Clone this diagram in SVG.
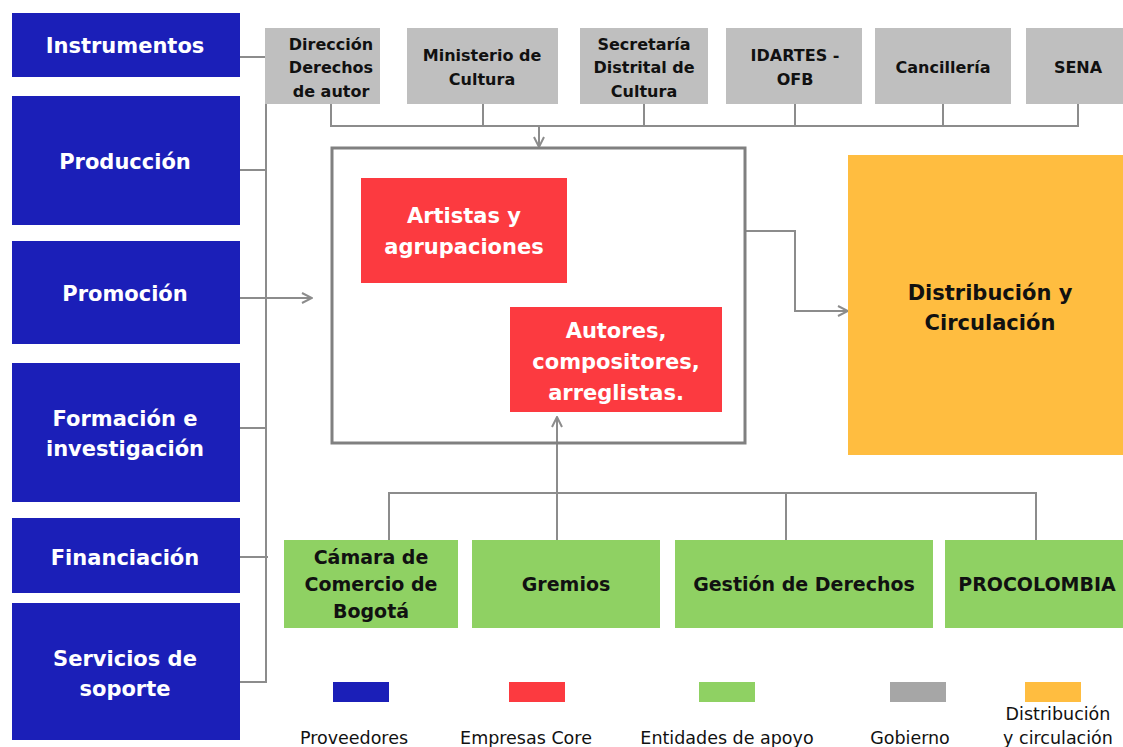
<svg xmlns="http://www.w3.org/2000/svg" width="1123" height="747" viewBox="0 0 1123 747">
<style>
.blue{fill:#1b1fb8}
.gray{fill:#bfbfbf}
.red{fill:#fc3a40}
.green{fill:#8fd163}
.orange{fill:#ffbd40}
.tw{font-family:"DejaVu Sans",sans-serif;font-weight:bold;fill:#fff;text-anchor:middle}
.tb{font-family:"DejaVu Sans",sans-serif;font-weight:bold;fill:#111;text-anchor:middle}
.lg{font-family:"DejaVu Sans",sans-serif;fill:#111;text-anchor:middle;font-size:17.5px}
.c{fill:none;stroke:#8c8c8c;stroke-width:2}
</style>
<defs>
<marker id="ar" viewBox="0 0 12 12" refX="11" refY="6" markerWidth="12" markerHeight="12" markerUnits="userSpaceOnUse" orient="auto">
<path d="M1,1 L11,6 L1,11" fill="none" stroke="#8c8c8c" stroke-width="2"/>
</marker>
</defs>
<rect width="1123" height="747" fill="#fff"/>

<g id="connectors">
<path class="c" d="M240,57 H266 V682 H232"/>
<path class="c" d="M232,170 H266"/>
<path class="c" d="M232,428 H266"/>
<path class="c" d="M232,557 H268"/>
<path class="c" d="M232,298 H312" marker-end="url(#ar)"/>
<path class="c" d="M331,104 V126 H1078 V104"/>
<path class="c" d="M483,104 V126 M644,104 V126 M795,104 V126 M943,104 V126"/>
<path class="c" d="M539,126 V147" marker-end="url(#ar)"/>
<path class="c" d="M745,231 H795 V311 H848" marker-end="url(#ar)"/>
<path class="c" d="M389,540 V493 H1036 V540"/>
<path class="c" d="M786,493 V540"/>
<path class="c" d="M557,540 V417" marker-end="url(#ar)"/>
</g>

<g id="instrumentos"><rect class="blue" x="12" y="13" width="228" height="64"/><text class="tw" x="125" y="53" font-size="21">Instrumentos</text></g>
<g id="produccion"><rect class="blue" x="12" y="96" width="228" height="129"/><text class="tw" x="125" y="169" font-size="21">Producción</text></g>
<g id="promocion"><rect class="blue" x="12" y="241" width="228" height="103"/><text class="tw" x="125" y="301" font-size="21">Promoción</text></g>
<g id="formacion"><rect class="blue" x="12" y="363" width="228" height="139"/><text class="tw" x="125" y="426" font-size="21">Formación e</text><text class="tw" x="125" y="456" font-size="21">investigación</text></g>
<g id="financiacion"><rect class="blue" x="12" y="518" width="228" height="75"/><text class="tw" x="125" y="565" font-size="21">Financiación</text></g>
<g id="servicios"><rect class="blue" x="12" y="603" width="228" height="137"/><text class="tw" x="125" y="666" font-size="21">Servicios de</text><text class="tw" x="125" y="696" font-size="21">soporte</text></g>

<g id="direccion"><rect class="gray" x="265" y="28" width="115" height="76"/><text class="tb" x="331" y="50" font-size="16">Dirección</text><text class="tb" x="331" y="73" font-size="16">Derechos</text><text class="tb" x="331" y="97" font-size="16">de autor</text></g>
<g id="ministerio"><rect class="gray" x="407" y="28" width="151" height="76"/><text class="tb" x="482" y="61" font-size="16">Ministerio de</text><text class="tb" x="482" y="85" font-size="16">Cultura</text></g>
<g id="secretaria"><rect class="gray" x="580" y="28" width="128" height="76"/><text class="tb" x="644" y="50" font-size="16">Secretaría</text><text class="tb" x="644" y="73" font-size="16">Distrital de</text><text class="tb" x="644" y="97" font-size="16">Cultura</text></g>
<g id="idartes"><rect class="gray" x="726" y="28" width="136" height="76"/><text class="tb" x="795" y="61" font-size="16">IDARTES -</text><text class="tb" x="795" y="85" font-size="16">OFB</text></g>
<g id="cancilleria"><rect class="gray" x="875" y="28" width="136" height="76"/><text class="tb" x="943" y="73" font-size="16">Cancillería</text></g>
<g id="sena"><rect class="gray" x="1026" y="28" width="97" height="76"/><text class="tb" x="1078" y="73" font-size="16">SENA</text></g>

<g id="core"><rect x="332" y="148" width="413" height="295" fill="none" stroke="#808080" stroke-width="3"/></g>
<g id="artistas"><rect class="red" x="361" y="178" width="206" height="105"/><text class="tw" x="464" y="223" font-size="21">Artistas y</text><text class="tw" x="464" y="254" font-size="21">agrupaciones</text></g>
<g id="autores"><rect class="red" x="510" y="307" width="212" height="105"/><text class="tw" x="616" y="338" font-size="21">Autores,</text><text class="tw" x="616" y="369" font-size="21">compositores,</text><text class="tw" x="616" y="400" font-size="21">arreglistas.</text></g>

<g id="distribucion"><rect class="orange" x="848" y="155" width="275" height="300"/><text class="tb" x="990" y="300" font-size="21">Distribución y</text><text class="tb" x="990" y="330" font-size="21">Circulación</text></g>

<g id="camara"><rect class="green" x="284" y="540" width="174" height="88"/><text class="tb" x="371" y="564" font-size="19">Cámara de</text><text class="tb" x="371" y="591" font-size="19">Comercio de</text><text class="tb" x="371" y="618" font-size="19">Bogotá</text></g>
<g id="gremios"><rect class="green" x="472" y="540" width="188" height="88"/><text class="tb" x="566" y="591" font-size="19">Gremios</text></g>
<g id="gestion"><rect class="green" x="675" y="540" width="258" height="88"/><text class="tb" x="804" y="591" font-size="19">Gestión de Derechos</text></g>
<g id="procolombia"><rect class="green" x="945" y="540" width="178" height="88"/><text class="tb" x="1037" y="591" font-size="19">PROCOLOMBIA</text></g>

<g id="legend">
<rect class="blue" x="333" y="682" width="56" height="20"/>
<rect class="red" x="509" y="682" width="56" height="20"/>
<rect class="green" x="699" y="682" width="56" height="20"/>
<rect x="890" y="682" width="56" height="20" fill="#a6a6a6"/>
<rect class="orange" x="1025" y="682" width="56" height="20"/>
<text class="lg" x="354" y="744">Proveedores</text>
<text class="lg" x="526" y="744">Empresas Core</text>
<text class="lg" x="727" y="744">Entidades de apoyo</text>
<text class="lg" x="910" y="744">Gobierno</text>
<text class="lg" x="1058" y="720">Distribución</text>
<text class="lg" x="1058" y="744">y circulación</text>
</g>
</svg>
